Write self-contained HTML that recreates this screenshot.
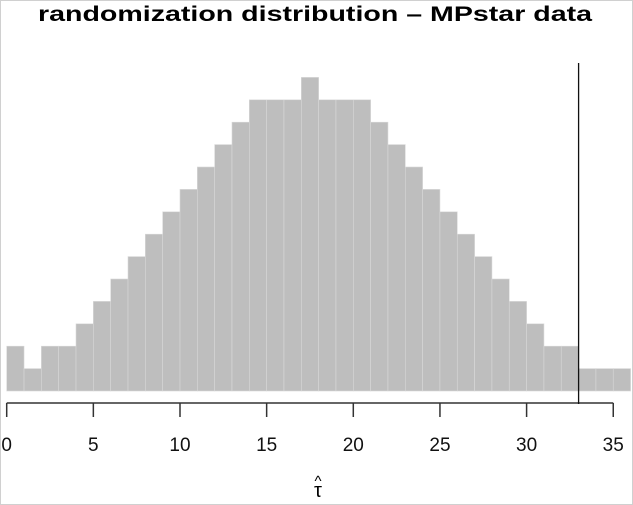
<!DOCTYPE html>
<html><head><meta charset="utf-8"><style>
html,body{margin:0;padding:0;background:#fff;}
svg{display:block;font-family:"Liberation Sans",Arial,sans-serif;}
</style></head><body>
<svg id="chart" width="633" height="505" viewBox="0 0 633 505">
<rect x="0.5" y="0.5" width="632" height="504" fill="#fff" stroke="#d0d0d0"/>
<text x="315" y="21" text-anchor="middle" font-size="21" font-weight="bold" textLength="554" lengthAdjust="spacingAndGlyphs">randomization distribution – MPstar data</text>
<g id="bars"></g>
<g id="axis"></g>
<text x="318" y="497" text-anchor="middle" font-size="20">τ</text>
<text x="318" y="486" text-anchor="middle" font-size="15">^</text>
</svg>
<script>
const binStarts = [0,1,2,3,4,5,6,7,8,9,10,11,12,13,14,15,16,17,18,19,20,21,22,23,24,25,26,27,28,29,30,31,32,33,34,35];
const counts = [2,1,2,2,3,4,5,6,7,8,9,10,11,12,13,13,13,14,13,13,13,12,11,10,9,8,7,6,5,4,3,2,2,1,1,1];
const xTicks = [0,5,10,15,20,25,30,35];
const observed = [33];
const NS = "http://www.w3.org/2000/svg";
const x = v => 6.7 + v * 17.33;
const y = c => 391 - c * 22.4;
const bars = document.getElementById('bars');
binStarts.forEach((b, i) => {
  const r = document.createElementNS(NS, 'rect');
  r.setAttribute('x', x(b)); r.setAttribute('y', y(counts[i]));
  r.setAttribute('width', x(b + 1) - x(b)); r.setAttribute('height', y(0) - y(counts[i]));
  r.setAttribute('fill', '#bebebe'); r.setAttribute('stroke', '#d8d8d8'); r.setAttribute('stroke-width', '0.6');
  
  
  bars.appendChild(r);
});
const ax = document.getElementById('axis');
const line = document.createElementNS(NS, 'line');
line.setAttribute('x1', x(xTicks[0])); line.setAttribute('x2', x(xTicks[xTicks.length - 1]));
line.setAttribute('y1', 403); line.setAttribute('y2', 403);
line.setAttribute('stroke', '#333'); line.setAttribute('stroke-width', '1.5');


ax.appendChild(line);
xTicks.forEach(t => {
  const tk = document.createElementNS(NS, 'line');
  tk.setAttribute('x1', x(t)); tk.setAttribute('x2', x(t)); tk.setAttribute('y1', 403); tk.setAttribute('y2', 417);
  tk.setAttribute('stroke', '#333'); tk.setAttribute('stroke-width', '1.5');
  
  
  ax.appendChild(tk);
  const lb = document.createElementNS(NS, 'text');
  lb.setAttribute('x', x(t)); lb.setAttribute('y', 451); lb.setAttribute('text-anchor', 'middle');
  lb.setAttribute('font-size', '19'); lb.setAttribute('fill', '#111');
  lb.textContent = t;
  
  
  ax.appendChild(lb);
});
observed.forEach(o => {
  const v = document.createElementNS(NS, 'line');
  v.setAttribute('x1', x(o)); v.setAttribute('x2', x(o)); v.setAttribute('y1', 63); v.setAttribute('y2', 404);
  v.setAttribute('stroke', '#111'); v.setAttribute('stroke-width', '1.3');
  
  
  document.getElementById('chart').appendChild(v);
});
</script>
</body></html>
